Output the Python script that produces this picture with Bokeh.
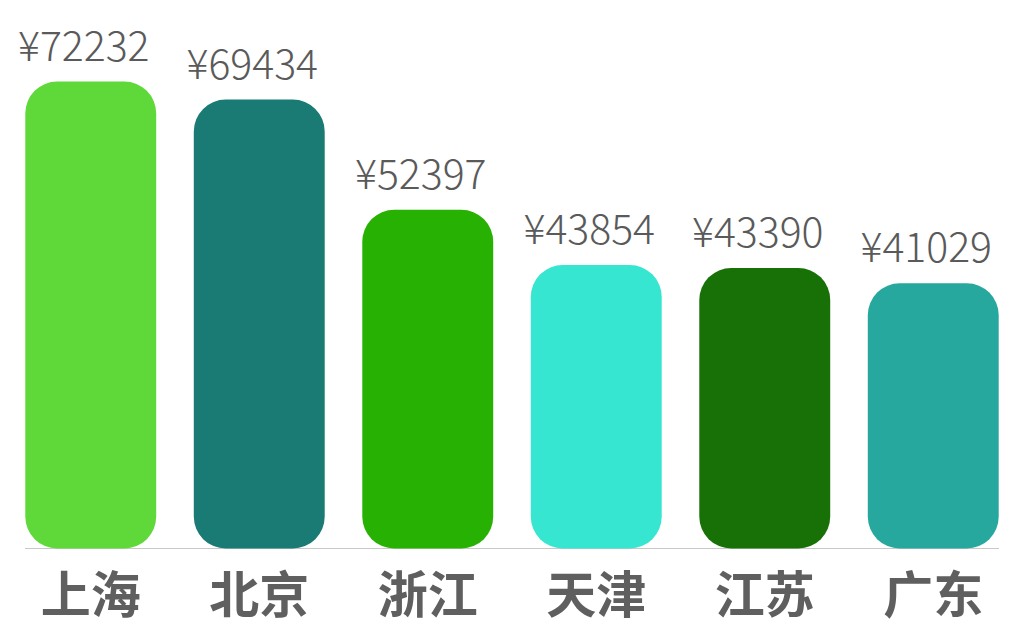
from bokeh.plotting import figure
from bokeh.models import ColumnDataSource, Range1d, FactorRange
from bokeh.transform import dodge
from bokeh.core.properties import value
from bokeh.embed import file_html
from bokeh.resources import INLINE

# data
cities = ["上海", "北京", "浙江", "天津", "江苏", "广东"]
income = [72232, 69434, 52397, 43854, 43390, 41029]
colors = ["#5fd83a", "#1a7a74", "#27b102", "#36e6d0", "#177106", "#27a89e"]
labels = ["¥%d" % v for v in income]

src = ColumnDataSource(dict(city=cities, income=income, color=colors,
                            label=labels, zero=[0] * len(cities)))

# pixel scale: tallest bar is ~467px high, baseline 80px above the bottom
k = 72232 / 467.0
p = figure(width=1017, height=628, x_range=FactorRange(factors=cities),
           y_range=Range1d(-80 * k, 548 * k),
           output_backend="svg", toolbar_location=None,
           min_border=0, min_border_left=6,
           background_fill_color="white", border_fill_color="white")
p.outline_line_color = None
p.axis.visible = False
p.grid.grid_line_color = None

# baseline from left edge of first bar to right edge of last bar
base = ColumnDataSource(dict(x0=[cities[0]], x1=[cities[-1]], y=[0]))
p.segment(x0=dodge("x0", -0.39, range=p.x_range), y0="y",
          x1=dodge("x1", 0.39, range=p.x_range), y1="y",
          source=base, line_color="#c8c8c8", line_width=1)

# rounded bars
p.vbar(x="city", top="income", bottom=0, width=0.777, source=src,
       fill_color="color", line_color=None, border_radius=32)

# value labels
p.text(x="city", y="income", text="label", source=src,
       text_align="center", text_baseline="alphabetic",
       x_offset=-7, y_offset=-39,
       text_font=value("'Noto Sans CJK SC Light', 'Noto Sans CJK SC DemiLight', 'Noto Sans CJK SC'"),
       text_font_size="41px", text_color="#5a5a5a")

# city names
p.text(x="city", y="zero", text="city", source=src,
       text_align="center", text_baseline="middle", y_offset=42,
       text_font=value("Noto Sans CJK SC"), text_font_style="bold",
       text_font_size="50px", text_color="#5f5f5f")

open("out.html", "w").write(file_html(p, INLINE))
